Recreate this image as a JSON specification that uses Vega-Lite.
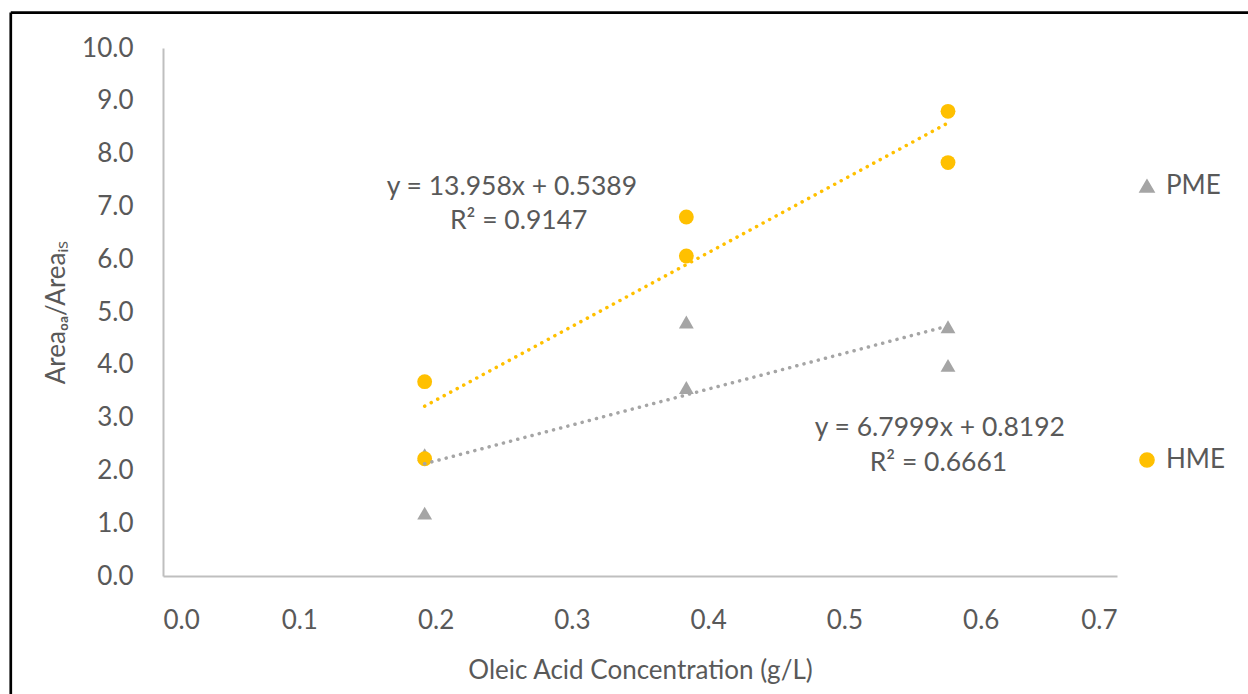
{
  "$schema": "https://vega.github.io/schema/vega-lite/v6.json",
  "width": 954,
  "height": 528,
  "autosize": {"type": "none"},
  "padding": {"left": 163, "top": 48, "right": 131, "bottom": 118},
  "background": "white",
  "config": {
    "view": {"stroke": null},
    "font": "Lato",
    "axis": {
      "grid": false,
      "ticks": false,
      "domainColor": "#bfbfbf",
      "domainWidth": 2,
      "labelColor": "#595959",
      "labelFontSize": 26,
      "labelFont": "Lato",
      "titleColor": "#595959",
      "titleFontSize": 26,
      "titleFont": "Lato",
      "titleFontWeight": "normal"
    },
    "legend": {
      "labelColor": "#595959",
      "labelFontSize": 26,
      "labelFont": "Lato"
    }
  },
  "datasets": {
    "points": [
      {"conc": 0.192, "ratio": 2.30, "series": "PME"},
      {"conc": 0.192, "ratio": 1.19, "series": "PME"},
      {"conc": 0.384, "ratio": 4.81, "series": "PME"},
      {"conc": 0.384, "ratio": 3.57, "series": "PME"},
      {"conc": 0.576, "ratio": 4.72, "series": "PME"},
      {"conc": 0.576, "ratio": 3.99, "series": "PME"},
      {"conc": 0.192, "ratio": 3.68, "series": "HME"},
      {"conc": 0.192, "ratio": 2.22, "series": "HME"},
      {"conc": 0.384, "ratio": 6.80, "series": "HME"},
      {"conc": 0.384, "ratio": 6.06, "series": "HME"},
      {"conc": 0.576, "ratio": 8.80, "series": "HME"},
      {"conc": 0.576, "ratio": 7.83, "series": "HME"}
    ],
    "notes": [
      {"conc": 0.256, "ratio": 7.37, "label": "y = 13.958x + 0.5389"},
      {"conc": 0.261, "ratio": 6.72, "label": "R² = 0.9147"},
      {"conc": 0.570, "ratio": 2.80, "label": "y = 6.7999x + 0.8192"},
      {"conc": 0.569, "ratio": 2.14, "label": "R² = 0.6661"}
    ],
    "frame": [{}]
  },
  "layer": [
    {
      "data": {"name": "frame"},
      "mark": {"type": "rule", "color": "black", "strokeWidth": 2.7, "clip": false},
      "encoding": {
        "x": {"datum": -0.1117, "type": "quantitative"},
        "y": {"datum": 10.67, "type": "quantitative"},
        "y2": {"datum": -3}
      }
    },
    {
      "data": {"name": "frame"},
      "mark": {"type": "rule", "color": "black", "strokeWidth": 2.7, "clip": false},
      "encoding": {
        "x": {"datum": -0.1117, "type": "quantitative"},
        "x2": {"datum": 0.9},
        "y": {"datum": 10.67, "type": "quantitative"}
      }
    },
    {
      "data": {"name": "points"},
      "mark": {"type": "point", "filled": true, "opacity": 1, "size": 220},
      "encoding": {
        "x": {
          "field": "conc", "type": "quantitative",
          "scale": {"domain": [0, 0.7], "nice": false, "zero": false},
          "axis": {"values": [0, 0.1, 0.2, 0.3, 0.4, 0.5, 0.6, 0.7], "format": ".1f", "labelPadding": 31, "title": "Oleic Acid Concentration (g/L)", "titlePadding": 24}
        },
        "y": {
          "field": "ratio", "type": "quantitative",
          "scale": {"domain": [0, 10], "nice": false},
          "axis": {"values": [0, 1, 2, 3, 4, 5, 6, 7, 8, 9, 10], "format": ".1f", "labelPadding": 30, "title": "Areaₒₐ/Areaᵢₛ", "titlePadding": 12}
        },
        "color": {
          "field": "series", "type": "nominal",
          "scale": {"domain": ["PME", "HME"], "range": ["#a5a5a5", "#ffc000"]},
          "legend": {"title": null, "orient": "none", "legendX": 971, "legendY": 125, "rowPadding": 248, "labelOffset": 6, "symbolSize": 200, "padding": 0}
        },
        "shape": {
          "field": "series", "type": "nominal",
          "scale": {"domain": ["PME", "HME"], "range": ["triangle-up", "circle"]},
          "legend": {"title": null, "orient": "none", "legendX": 971, "legendY": 125, "rowPadding": 248, "labelOffset": 6, "symbolSize": 200, "padding": 0}
        }
      }
    },
    {
      "data": {"name": "points"},
      "transform": [
        {"regression": "ratio", "on": "conc", "groupby": ["series"], "method": "linear"}
      ],
      "mark": {"type": "line", "strokeWidth": 3.5, "strokeDash": [0.1, 7.3], "strokeCap": "round"},
      "encoding": {
        "x": {"field": "conc", "type": "quantitative"},
        "y": {"field": "ratio", "type": "quantitative"},
        "stroke": {
          "field": "series", "type": "nominal",
          "scale": {"domain": ["PME", "HME"], "range": ["#a5a5a5", "#ffc000"]},
          "legend": null
        }
      }
    },
    {
      "data": {"name": "notes"},
      "mark": {"type": "text", "font": "Lato", "fontSize": 26.5, "color": "#595959", "align": "center", "baseline": "middle"},
      "encoding": {
        "x": {"field": "conc", "type": "quantitative"},
        "y": {"field": "ratio", "type": "quantitative"},
        "text": {"field": "label"}
      }
    }
  ]
}
